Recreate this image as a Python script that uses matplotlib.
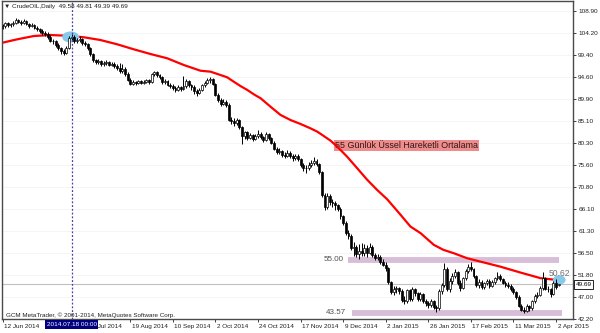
import numpy as np
import matplotlib
matplotlib.use("Agg")
import matplotlib.pyplot as plt
from matplotlib.patches import Ellipse
import matplotlib.transforms as mtransforms

plt.rcParams['font.family'] = ['Liberation Sans', 'DejaVu Sans']

# ---------------- data ----------------
opens = [
    105.2,105.6,106.2,105.8,106.0,106.4,106.9,106.6,106.3,106.8,
    106.1,105.7,105.9,105.3,104.9,104.6,104.2,104.0,103.2,102.5,
    102.3,101.6,100.8,100.2,99.9,100.9,103.0,103.2,102.4,102.6,
    102.8,102.0,101.8,100.9,99.6,98.2,97.9,98.0,97.4,97.6,
    97.9,97.3,97.5,97.0,96.6,95.9,96.4,95.3,94.0,93.2,
    93.5,93.3,93.7,93.4,93.6,93.9,93.5,95.2,95.6,95.0,
    94.6,93.5,93.8,92.9,92.6,92.3,91.8,92.4,92.0,92.6,
    93.8,92.8,92.5,91.6,91.2,91.9,92.8,93.4,93.9,94.2,
    93.1,90.8,89.6,88.8,89.3,88.6,85.4,85.0,84.6,85.2,
    83.8,81.8,82.6,81.5,82.0,81.2,81.9,82.3,81.6,81.0,
    82.2,81.3,80.4,79.0,78.3,78.6,77.8,77.6,78.2,77.5,
    77.0,77.6,76.8,75.6,75.0,74.8,75.6,76.0,76.5,75.8,
    74.0,69.0,66.5,68.8,67.5,67.3,66.8,66.1,64.5,63.0,
    60.8,60.2,57.6,57.8,56.2,57.0,56.4,57.5,56.6,57.9,
    56.0,55.4,55.7,54.6,54.0,53.2,50.2,48.0,48.6,48.9,
    48.3,46.3,46.0,48.4,46.5,48.7,47.8,46.5,47.6,46.2,
    45.6,45.2,46.2,44.8,44.5,48.2,49.6,53.1,48.6,50.5,
    51.6,52.4,50.0,48.9,51.0,52.6,53.5,53.0,51.5,49.5,
    50.3,49.2,49.9,50.5,49.4,50.2,51.0,51.6,50.8,50.1,
    49.6,49.4,48.8,48.1,47.0,45.0,44.2,44.0,45.0,44.5,
    46.0,47.2,47.5,48.9,51.0,48.8,48.6,47.6,50.0,49.58,
]
highs = [
    106.0,106.6,106.5,106.4,106.8,107.3,107.2,106.9,107.1,107.0,
    106.4,106.3,106.1,105.6,105.2,104.9,104.6,104.3,103.6,102.9,
    102.6,101.9,101.2,100.7,101.4,103.5,103.9,103.6,103.1,103.4,
    103.0,102.5,102.0,101.1,99.9,98.6,98.5,98.3,98.0,98.4,
    98.1,97.9,97.8,97.4,97.6,97.4,96.7,95.6,94.3,93.9,
    93.8,94.0,93.9,93.9,94.2,94.1,95.5,96.0,95.9,95.3,
    94.8,94.2,94.0,93.3,93.0,92.6,92.8,92.7,94.9,94.2,
    94.0,93.1,92.8,92.0,92.3,93.2,93.8,94.3,94.7,94.4,
    93.3,91.2,90.0,89.8,89.6,88.9,86.0,85.7,85.8,85.5,
    84.1,83.0,82.9,82.5,82.3,82.3,83.2,82.6,81.9,82.7,
    82.4,81.6,80.7,79.4,79.2,78.9,78.3,78.9,78.5,77.9,
    78.0,77.9,77.1,76.0,75.6,76.1,76.6,77.2,76.8,76.0,
    74.3,69.4,69.4,69.2,68.1,67.7,67.2,66.5,64.8,63.4,
    61.5,60.6,58.9,58.3,58.5,58.6,58.4,58.2,58.6,58.3,
    56.6,56.3,56.0,55.3,54.6,53.5,50.5,49.3,49.4,49.2,
    48.6,47.1,48.8,48.7,49.1,49.0,48.1,48.0,47.9,46.6,
    46.0,46.6,46.4,45.2,48.6,50.0,54.3,53.5,51.0,52.2,
    53.0,52.7,50.6,51.4,53.0,54.2,54.5,53.3,51.8,50.8,
    50.6,50.3,50.9,50.8,50.6,51.4,52.4,51.9,51.1,50.4,
    50.2,49.7,49.1,48.3,47.3,45.4,44.8,45.4,45.2,46.3,
    47.6,48.0,49.3,52.4,51.3,49.4,48.9,50.4,50.8,49.81,
]
lows = [
    104.9,105.3,105.4,105.5,105.7,106.1,106.2,105.9,106.0,105.8,
    105.3,105.4,104.9,104.5,104.2,103.8,103.5,102.9,102.1,101.8,
    101.2,100.4,99.6,99.4,99.6,100.6,102.6,101.9,102.0,102.2,
    101.6,101.4,100.5,99.2,97.8,97.4,97.5,96.9,97.1,97.3,
    96.9,97.0,96.6,96.2,95.4,95.5,94.9,93.7,92.8,92.9,
    92.9,93.0,93.0,93.1,93.3,93.1,93.3,94.8,94.6,94.2,
    93.2,93.1,92.6,92.2,91.9,91.3,91.5,91.6,91.8,92.3,
    92.5,91.8,91.0,90.4,90.9,91.6,92.4,93.0,93.4,92.8,
    90.4,89.2,88.4,88.5,88.2,85.0,84.4,84.0,84.2,83.4,
    80.0,81.2,81.0,81.1,80.8,80.9,81.5,81.2,80.6,80.8,
    81.0,80.0,78.7,77.9,78.0,77.3,77.0,77.3,77.0,76.5,
    76.7,76.4,75.1,74.3,73.8,74.5,75.2,75.6,75.3,73.6,
    68.6,65.8,66.0,66.9,66.4,65.8,65.6,63.9,62.6,60.4,
    59.6,57.2,55.9,55.6,55.2,55.8,55.9,55.7,56.2,55.6,
    54.9,54.9,54.1,53.6,52.6,49.8,47.6,47.4,47.8,47.6,
    45.9,45.4,45.7,46.1,46.2,47.2,46.0,46.2,45.7,45.0,
    44.6,44.8,44.4,43.8,44.2,47.7,49.2,48.2,48.1,49.8,
    51.0,49.6,48.2,48.6,50.6,52.2,52.6,51.0,49.1,49.0,
    48.7,48.8,49.5,49.0,49.1,49.8,50.7,50.4,49.7,49.2,
    49.0,48.3,47.7,46.6,44.7,43.9,43.6,43.8,44.0,44.2,
    45.7,46.8,47.1,48.5,48.4,48.0,47.0,47.3,48.7,49.39,
]
closes = [
    105.6,106.2,105.8,106.0,106.4,106.9,106.6,106.3,106.8,106.1,
    105.7,105.9,105.3,104.9,104.6,104.2,104.0,103.2,102.5,102.3,
    101.6,100.8,100.2,99.9,100.9,103.0,103.2,102.4,102.6,102.8,
    102.0,101.8,100.9,99.6,98.2,97.9,98.0,97.4,97.6,97.9,
    97.3,97.5,97.0,96.6,95.9,96.4,95.3,94.0,93.2,93.5,
    93.3,93.7,93.4,93.6,93.9,93.5,95.2,95.6,95.0,94.6,
    93.5,93.8,92.9,92.6,92.3,91.8,92.4,92.0,92.6,93.8,
    92.8,92.5,91.6,91.2,91.9,92.8,93.4,93.9,94.2,93.1,
    90.8,89.6,88.8,89.3,88.6,85.4,85.0,84.6,85.2,83.8,
    81.8,82.6,81.5,82.0,81.2,81.9,82.3,81.6,81.0,82.2,
    81.3,80.4,79.0,78.3,78.6,77.8,77.6,78.2,77.5,77.0,
    77.6,76.8,75.6,75.0,74.8,75.6,76.0,76.5,75.8,74.0,
    69.0,66.5,68.8,67.5,67.3,66.8,66.1,64.5,63.0,60.8,
    60.2,57.6,57.8,56.2,57.0,56.4,57.5,56.6,57.9,56.0,
    55.4,55.7,54.6,54.0,53.2,50.2,48.0,48.6,48.9,48.3,
    46.3,46.0,48.4,46.5,48.7,47.8,46.5,47.6,46.2,45.6,
    45.2,46.2,44.8,44.5,48.2,49.6,53.1,48.6,50.5,51.6,
    52.4,50.0,48.9,51.0,52.6,53.5,53.0,51.5,49.5,50.3,
    49.2,49.9,50.5,49.4,50.2,51.0,51.6,50.8,50.1,49.6,
    49.4,48.8,48.1,47.0,45.0,44.2,44.0,45.0,44.5,46.0,
    47.2,47.5,48.9,51.0,48.8,48.6,47.6,50.0,49.2,49.69,
]

# 55-day EMA (bar position, value)
ema_bar = [0, 5.5, 11.8, 18.0, 24.3, 30.6, 36.8, 43.1, 49.3, 55.6, 61.9, 68.1,
           74.4, 78.2, 81.9, 84.4, 86.9, 89.4, 92.0, 94.4, 97.0, 100.7, 104.5,
           108.2, 112.0, 115.7, 118.3, 120.7, 123.3, 125.8, 129.5, 133.3, 137.1,
           140.8, 144.6, 149.6, 153.3, 157.1, 162.1, 165.7, 169.6, 174.6, 179.6,
           187.0, 194.7, 202.2, 209.0]
ema_val = [102.04, 102.77, 103.49, 103.70, 103.55, 103.21, 102.62, 101.69, 100.61,
           99.59, 98.66, 97.21, 95.97, 95.76, 95.04, 94.55, 93.59, 92.66, 91.80,
           90.87, 90.00, 88.18, 86.38, 85.30, 84.43, 83.50, 82.77, 81.84, 80.81,
           79.52, 77.35, 74.84, 72.31, 70.14, 68.10, 64.75, 62.22, 60.79, 58.25,
           57.17, 56.44, 55.36, 54.63, 53.55, 52.25, 51.04, 50.62]

date_labels = ["12 Jun 2014", "4 Jul 2014", "28 Jul 2014", "19 Aug 2014", "10 Sep 2014",
               "2 Oct 2014", "24 Oct 2014", "17 Nov 2014", "9 Dec 2014", "2 Jan 2015",
               "26 Jan 2015", "17 Feb 2015", "11 Mar 2015", "2 Apr 2015"]
bars_per_label = 16
price_ticks = [108.90, 104.20, 99.40, 94.60, 89.90, 85.10, 80.30, 75.60, 70.80,
               66.10, 61.30, 56.50, 51.80, 47.00, 42.20]
level_high = 55.00
level_low = 43.57
ema_last = 50.62
bid = 49.69
cursor_bar = 26
cursor_label = "2014.07.18 00:00"
header = "\u25BC CrudeOIL,Daily  49.58 49.81 49.39 49.69"
ema_title = "55 G\u00fcnl\u00fck \u00dcssel Hareketli Ortalama"
copyright_txt = "GCM MetaTrader, \u00a9 2001-2014, MetaQuotes Software Corp."

# ---------------- figure ----------------
W, H = 600, 333
fig = plt.figure(figsize=(W / 100, H / 100), dpi=100)
ax = fig.add_axes([2 / W, 14 / H, 571 / W, 318 / H])

O = np.array(opens); Hh = np.array(highs); L = np.array(lows); C = np.array(closes)
x = np.arange(len(C))

px_per_bar = 2.661
xmin = -0.2
ax.set_xlim(xmin, xmin + 571 / px_per_bar)
ax.set_ylim(42.22, 111.07)

# faint grid
for p in price_ticks:
    ax.axhline(p, color='#f4f4f4', lw=0.6, zorder=0)

# bid line
ax.axhline(bid, color='#c0c0c0', lw=0.8, zorder=1)

# cursor vertical line
ax.axvline(cursor_bar, color='#4b3f9a', lw=0.9, ls=(0, (1.5, 1.5)), zorder=6)

# levels
ax.plot([130.0, 209.3], [level_high, level_high], color='#d8bdd8', lw=4.2,
        solid_capstyle='butt', zorder=1)
ax.plot([131.2, 210.4], [level_low, level_low], color='#d8bdd8', lw=4.2,
        solid_capstyle='butt', zorder=1)
ax.text(128.3, level_high, f"{level_high:.2f}", ha='right', va='center',
        fontsize=5.8, color='#505050', zorder=7)
ax.text(129.0, level_low, f"{level_low:.2f}", ha='right', va='center',
        fontsize=5.8, color='#505050', zorder=7)

# EMA
ax.plot(ema_bar, ema_val, color='#ff0000', lw=1.6, zorder=2,
        solid_joinstyle='round', solid_capstyle='round')

# ellipses
ax.add_patch(Ellipse((25.6, 103.27), 6.4, 2.4, facecolor='#86c9ea', edgecolor='none', zorder=2.5))
ax.add_patch(Ellipse((209.2, 50.66), 4.8, 2.0, facecolor='#86c9ea', edgecolor='none', zorder=2.5))

# candles
up = C >= O
ax.vlines(x, L, Hh, color='black', lw=0.7, zorder=3)
body = np.where(np.abs(C - O) < 0.08, 0.08, C - O)
ax.bar(x[up], body[up], bottom=O[up], width=0.72, facecolor='white',
       edgecolor='black', linewidth=0.5, zorder=4)
ax.bar(x[~up], body[~up], bottom=O[~up], width=0.72, facecolor='black',
       edgecolor='black', linewidth=0.5, zorder=4)

# EMA label
ax.text(124.95, 79.8, ema_title, ha='left', va='center', fontsize=6.4, color='#2a1a1a',
        zorder=1.8, bbox=dict(boxstyle='square,pad=0.12', fc='#f08c8c', ec='none'))

# last EMA value label
ax.text(205.2, 51.96, f"{ema_last:.2f}", ha='left', va='center', fontsize=6.2,
        color='#707070', zorder=7)

# header & copyright
fig.text(4 / W, 1 - 6.5 / H, header, ha='left', va='center', fontsize=4.6, color='#202020')
ax.text(4 / 571, 1.5 / 318, copyright_txt, transform=ax.transAxes, ha='left', va='bottom',
        fontsize=4.5, color='#202020', zorder=7)

# axes styling
for s in ax.spines.values():
    s.set_color('#4a4a4a')
    s.set_linewidth(1.0)

ax.yaxis.tick_right()
ax.set_yticks(price_ticks)
ax.set_yticklabels([f"{p:.2f}" for p in price_ticks])
ax.tick_params(axis='y', direction='out', length=2.2, width=0.6, pad=1.5,
               labelsize=4.6, colors='#202020')

xt = [i * bars_per_label for i in range(len(date_labels))]
# a label fully covered by the cursor date box is not visible in the reference
shown_labels = ['' if (t < cursor_bar and t + 9 < cursor_bar + 10) else lab
                for t, lab in zip(xt, date_labels)]
shown_labels[0] = date_labels[0]
ax.set_xticks(xt)
ax.set_xticklabels(shown_labels, ha='left')
ax.tick_params(axis='x', direction='out', length=2.2, width=0.6, pad=1.2,
               labelsize=4.6, colors='#202020')
for lbl in ax.get_xticklabels():
    lbl.set_transform(lbl.get_transform() + mtransforms.ScaledTranslation(1.5 / 100, 0, fig.dpi_scale_trans))

# bid price label on right axis
ax.text(1.0 + 2.5 / 571, bid, f"{bid:.2f}", transform=ax.get_yaxis_transform(),
        ha='left', va='center', fontsize=4.6, color='black', zorder=8, clip_on=False,
        bbox=dict(boxstyle='square,pad=0.25', fc='white', ec='black', lw=0.6))

# cursor date box
ax.text(cursor_bar, -5.5 / 318, cursor_label, transform=ax.get_xaxis_transform(),
        ha='center', va='center', fontsize=4.6, color='white', zorder=9, clip_on=False,
        bbox=dict(boxstyle='square,pad=0.25', fc='#000080', ec='none'))

fig.savefig("out.png", dpi=100, facecolor='white')
